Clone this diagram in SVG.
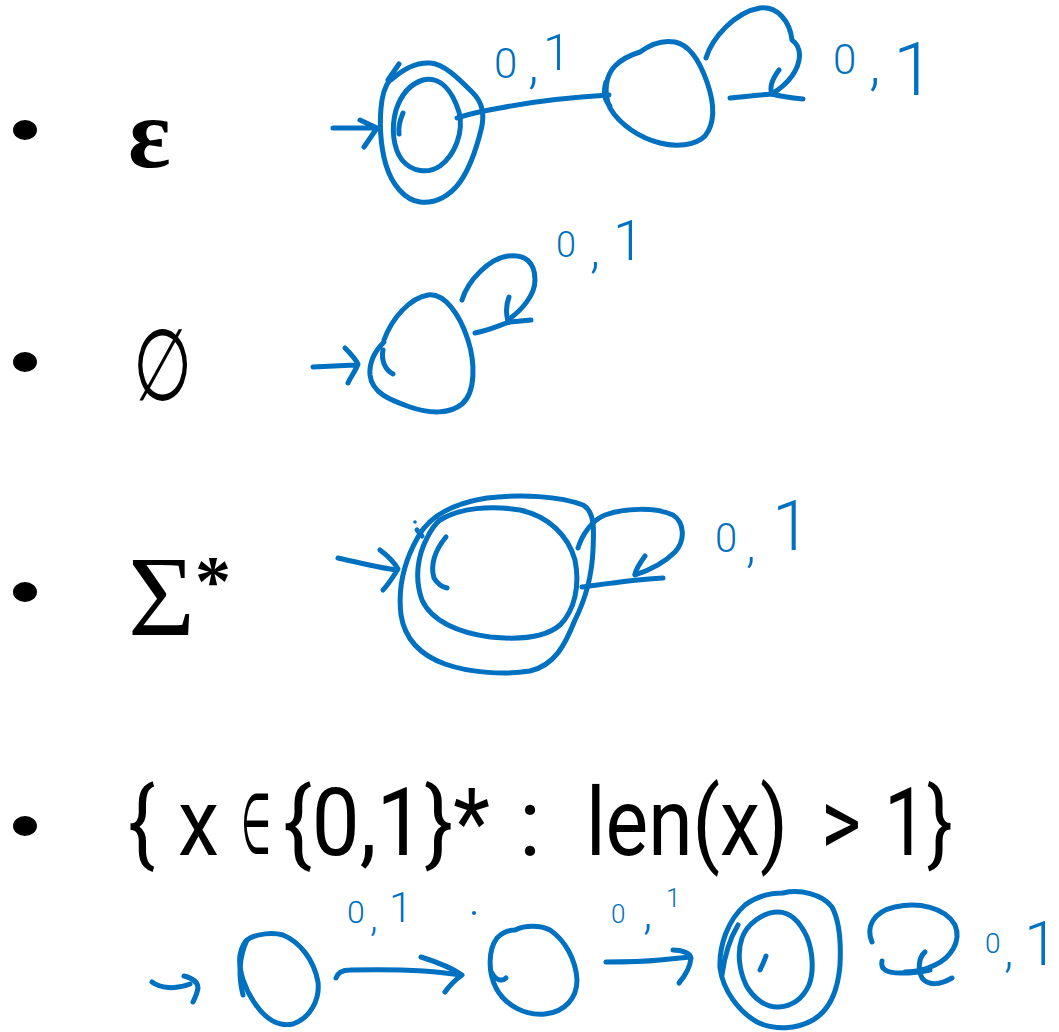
<svg xmlns="http://www.w3.org/2000/svg" width="1059" height="1032" viewBox="0 0 1059 1032">
<style>
.ink{fill:none;stroke:#0070C0;stroke-width:5;stroke-linecap:round;stroke-linejoin:round}
.lb{fill:#0070C0;font-family:Roboto,'Liberation Sans',sans-serif;font-weight:300}
.bul{fill:#000}
.ser{fill:#000;font-family:'Liberation Serif','DejaVu Serif',serif}
.sans{fill:#000;font-family:Roboto,'DejaVu Sans',sans-serif;font-size:94px;font-weight:400}
</style>
<rect width="1059" height="1032" fill="#fff"/>
<g id="bullets">
<ellipse class="bul" cx="25" cy="130" rx="12" ry="10"/>
<ellipse class="bul" cx="25" cy="362" rx="12" ry="10"/>
<ellipse class="bul" cx="25" cy="592" rx="12" ry="10"/>
<ellipse class="bul" cx="25" cy="826" rx="12" ry="10"/>
</g>
<g id="items">
<text class="ser" x="128" y="167" font-size="100" font-weight="bold">ε</text>
<text class="ser" transform="translate(133,0) scale(0.68,1)" x="0" y="400" font-size="100">∅</text>
<text class="ser" x="128" y="635" font-size="115">Σ<tspan font-size="72" font-weight="bold" dy="-30">*</tspan></text>
<text class="sans" x="128" y="855" textLength="27" lengthAdjust="spacingAndGlyphs">{</text>
<text class="sans" x="178" y="855" textLength="41" lengthAdjust="spacingAndGlyphs">x</text>
<text x="241" y="853" font-family="'DejaVu Sans',sans-serif" font-size="84" textLength="30" lengthAdjust="spacingAndGlyphs">∈</text>
<text class="sans" x="283" y="855" textLength="207" lengthAdjust="spacingAndGlyphs">{0,1}*</text>
<text class="sans" x="519" y="855" textLength="22" lengthAdjust="spacingAndGlyphs">:</text>
<text class="sans" x="586" y="855" textLength="202" lengthAdjust="spacingAndGlyphs">len(x)</text>
<text class="sans" x="821" y="855" textLength="40" lengthAdjust="spacingAndGlyphs">&gt;</text>
<text class="sans" x="884" y="855" textLength="69" lengthAdjust="spacingAndGlyphs">1}</text>
</g>
<g id="eps-q0">
<path class="ink" d="M391,80 C402,70 415,62 430,63 C445,64 460,80 473,93 C482,102 485,115 481,130 C476,150 470,168 460,182 C450,196 435,204 420,202 C405,200 392,185 386,165 C380,145 379,120 382,100 C384,88 388,80 395,75"/>
<path class="ink" d="M399,64 L388,80"/>
<path class="ink" d="M423,80 C440,76 452,90 459,112 C464,132 455,155 440,166 C428,174 412,172 402,160 C393,148 391,128 396,110 C401,95 410,84 423,80"/>
<path class="ink" d="M403,113 C400,120 398,127 399,134"/>
</g>
<g id="eps-q1">
<path class="ink" d="M640,52 C652,43 664,40 675,42 C690,45 700,62 707,82 C714,102 716,122 705,136 C695,146 675,147 660,143 C640,138 620,125 610,108 C603,92 606,75 615,66 C622,59 630,55 640,52"/>
<path class="ink" d="M606,82 C603,92 604,100 610,106"/>
</g>
<g id="empty-q0">
<path class="ink" d="M384,340 C392,318 410,298 428,295 C445,293 460,315 468,340 C475,362 476,392 462,404 C450,414 430,414 410,407 C390,400 372,393 370,375 C369,362 376,350 384,342"/>
<path class="ink" d="M383,350 C381,360 385,370 393,374"/>
</g>
<g id="sigma-q0">
<path class="ink" d="M418,537 C430,515 455,503 487,498 C520,494 560,496 583,505 C595,512 594,530 593,550 C592,575 585,600 575,620 C565,645 555,665 530,671 C505,675 470,673 445,664 C420,655 405,640 401,615 C398,590 402,565 418,537"/>
<path class="ink" d="M440,520 C460,508 490,505 520,510 C548,516 568,535 575,560 C580,585 575,610 560,625 C545,638 520,640 490,637 C460,633 432,622 422,600 C414,578 418,555 427,538 C431,530 435,524 440,520"/>
<path class="ink" d="M446,537 C435,550 430,565 434,578 C437,583 442,587 447,588"/>
<path class="ink" d="M417,530 L422,536"/>
<circle cx="415" cy="522" r="1.8" fill="#0070C0"/>
</g>
<g id="len-q0">
<path class="ink" d="M250,938 C258,934 272,932 283,935 C300,942 314,960 318,982 C320,1000 310,1018 293,1024 C278,1027 265,1018 256,1005 C245,990 238,970 240,955 C242,945 246,940 250,938"/>
<path class="ink" d="M247,940 C240,955 238,975 243,995"/>
</g>
<g id="len-q1">
<path class="ink" d="M515,930 C525,925 540,925 550,930 C565,940 576,960 577,980 C577,998 565,1012 545,1014 C525,1016 505,1005 496,988 C488,972 488,950 497,938 C503,932 509,930 515,930"/>
<path class="ink" d="M492,973 C495,980 502,982 506,978"/>
</g>
<g id="len-q2">
<path class="ink" d="M783,893 C800,889 822,894 832,907 C840,922 841,945 840,965 C838,990 830,1010 813,1020 C797,1029 775,1031 757,1022 C738,1011 723,990 720,968 C719,945 728,920 745,905 C757,896 770,893 783,893"/>
<path class="ink" d="M738,925 C729,940 724,960 722,975"/>
<path class="ink" d="M778,912 C790,912 800,922 807,937 C813,952 814,972 809,985 C803,998 793,1006 779,1007 C766,1008 753,998 746,985 C739,970 737,952 742,938 C747,924 763,912 778,912"/>
<path class="ink" d="M766,956 C764,962 762,966 760,970"/>
</g>
<g id="connectors">
<path class="ink" d="M333,128 L377,128 M360,120 L377,128 L364,147"/>
<path class="ink" d="M457,118 C475,112 490,110 500,108 C540,100 575,97 609,95"/>
<path class="ink" d="M706,58 C712,38 735,12 760,8 C778,6 790,22 792,40 C803,48 801,63 792,76 C786,84 780,89 773,93"/>
<path class="ink" d="M730,98 C748,96 760,95 772,94 C783,97 793,98 803,99"/>
<path class="ink" d="M779,70 C773,78 769,87 772,94"/>
<path class="ink" d="M313,367 L355,365 M345,348 C352,355 356,360 358,364 C355,372 350,378 348,383"/>
<path class="ink" d="M462,300 C468,280 490,258 508,256 C525,254 535,262 535,280 C535,295 522,310 508,320"/>
<path class="ink" d="M475,333 C490,330 500,325 510,322 L531,320"/>
<path class="ink" d="M509,297 C506,305 506,314 508,321"/>
<path class="ink" d="M338,558 C360,563 380,568 397,570 M380,550 C388,556 394,562 398,569 C393,577 388,585 383,590"/>
<path class="ink" d="M578,548 C582,535 592,520 605,515 C625,508 655,507 673,515 C684,522 686,540 675,552 C665,562 650,570 635,575"/>
<path class="ink" d="M582,587 C605,584 630,580 663,578"/>
<path class="ink" d="M645,556 C640,563 636,569 635,574"/>
<path class="ink" d="M152,982 C160,988 175,990 190,984 M184,976 C192,978 198,982 198,988 C197,994 195,998 193,1002"/>
<path class="ink" d="M336,978 C338,972 343,970 350,970 C390,969 430,970 460,975 M421,957 C440,963 452,968 462,975 C455,980 450,985 445,992"/>
<path class="ink" d="M606,962 C620,962 640,962 660,960 C670,959 680,958 690,957 M673,950 C682,950 690,953 691,958 C690,968 685,976 679,983"/>
<path class="ink" d="M872,942 C866,928 872,912 895,907 C918,902 945,907 955,925 C962,942 950,958 935,965 C925,970 915,972 905,972"/>
<path class="ink" d="M882,961 C880,970 888,973 900,973 C912,973 922,972 930,970"/>
<path class="ink" d="M925,952 C918,958 918,970 922,978 C928,986 940,985 952,978"/>
<circle cx="474" cy="913" r="2" fill="#0070C0"/>
</g>
<g id="labels">
<text class="lb"><tspan x="494" y="78" font-size="42">0</tspan><tspan x="528" y="82" font-size="56">,</tspan><tspan x="543" y="70" font-size="50">1</tspan></text>
<text class="lb"><tspan x="833" y="74" font-size="42">0</tspan><tspan x="869" y="84" font-size="60">,</tspan><tspan x="893" y="95" font-size="75">1</tspan></text>
<text class="lb"><tspan x="556" y="257" font-size="36">0</tspan><tspan x="590" y="267" font-size="52">,</tspan><tspan x="613" y="260" font-size="56">1</tspan></text>
<text class="lb"><tspan x="715" y="552" font-size="40">0</tspan><tspan x="746" y="562" font-size="50">,</tspan><tspan x="772" y="550" font-size="70">1</tspan></text>
<text class="lb"><tspan x="347" y="923" font-size="32">0</tspan><tspan x="370" y="931" font-size="40">,</tspan><tspan x="389" y="922" font-size="42">1</tspan></text>
<text class="lb"><tspan x="611" y="923" font-size="26">0</tspan><tspan x="643" y="928" font-size="48">,</tspan><tspan x="666" y="907" font-size="26">1</tspan></text>
<text class="lb"><tspan x="985" y="953" font-size="28">0</tspan><tspan x="1004" y="966" font-size="48">,</tspan><tspan x="1024" y="965" font-size="62">1</tspan></text>
</g>
</svg>
